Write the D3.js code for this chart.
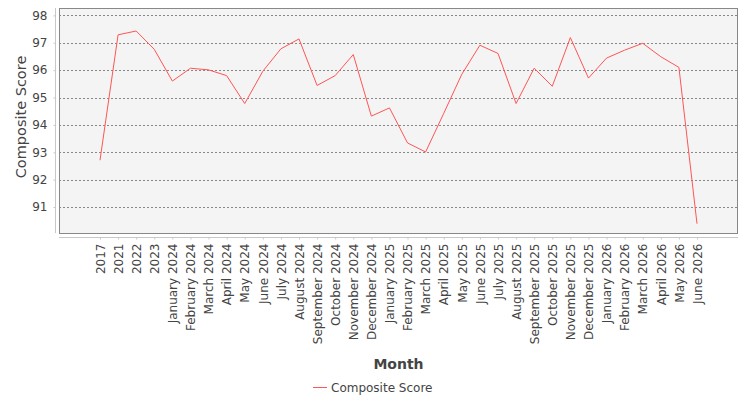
<!DOCTYPE html>
<html>
<head>
<meta charset="utf-8">
<script src="https://cdn.jsdelivr.net/npm/d3@7"></script>
<style>
  body { margin: 0; background: #fff; }
  text { font-family: "DejaVu Sans", sans-serif; fill: #444; }
</style>
</head>
<body>
<div id="chart"></div>
<script>
const months = [
  '2017', '2021', '2022', '2023',
  'January 2024', 'February 2024', 'March 2024', 'April 2024', 'May 2024', 'June 2024',
  'July 2024', 'August 2024', 'September 2024', 'October 2024', 'November 2024', 'December 2024',
  'January 2025', 'February 2025', 'March 2025', 'April 2025', 'May 2025', 'June 2025',
  'July 2025', 'August 2025', 'September 2025', 'October 2025', 'November 2025', 'December 2025',
  'January 2026', 'February 2026', 'March 2026', 'April 2026', 'May 2026', 'June 2026'
];
const compositeScore = [
  92.71, 97.29, 97.43, 96.76,
  95.60, 96.07, 96.01, 95.80, 94.78, 95.96,
  96.78, 97.14, 95.44, 95.80, 96.57, 94.32,
  94.62, 93.34, 93.01, 94.42, 95.85, 96.91,
  96.61, 94.78, 96.07, 95.41, 97.19, 95.71,
  96.44, 96.73, 96.98, 96.49, 96.10, 90.39
];
const yTicks = [91, 92, 93, 94, 95, 96, 97, 98];
const seriesName = 'Composite Score';

const width = 750;
const height = 400;
const plot = { left: 59, right: 738, top: 8, bottom: 233 };

const svg = d3.select('#chart')
  .append('svg')
  .attr('width', width)
  .attr('height', height);

const x = d3.scalePoint()
  .domain(months)
  .range([plot.left + 41, plot.right - 41]);
const y = d3.scaleLinear()
  .domain([90.05, 98.27])
  .range([plot.bottom, plot.top]);

// plot background
svg.append('rect')
  .attr('x', plot.left)
  .attr('y', plot.top)
  .attr('width', plot.right - plot.left)
  .attr('height', plot.bottom - plot.top)
  .attr('fill', '#f4f4f4');

// gridlines
svg.append('g')
  .selectAll('line')
  .data(yTicks)
  .enter()
  .append('line')
  .attr('x1', plot.left)
  .attr('x2', plot.right)
  .attr('y1', d => Math.round(y(d)) + 0.5)
  .attr('y2', d => Math.round(y(d)) + 0.5)
  .attr('stroke', '#888')
  .attr('stroke-width', 1)
  .attr('stroke-dasharray', '2,2');

// plot border
svg.append('rect')
  .attr('x', plot.left + 0.5)
  .attr('y', plot.top + 0.5)
  .attr('width', plot.right - plot.left - 1)
  .attr('height', plot.bottom - plot.top)
  .attr('fill', 'none')
  .attr('stroke', '#888')
  .attr('stroke-width', 1);

// y axis, drawn a few px left of the plot
const yAxis = d3.axisLeft(y)
  .tickValues(yTicks)
  .tickSize(2)
  .tickPadding(6)
  .tickFormat(d3.format('d'));
svg.append('g')
  .attr('transform', 'translate(' + (plot.left - 3.5) + ',0)')
  .call(yAxis)
  .call(g => g.select('.domain')
    .attr('d', 'M0,' + plot.top + 'V' + plot.bottom)
    .attr('stroke', '#c8c8c8'))
  .call(g => g.selectAll('.tick line').attr('stroke', '#c8c8c8'))
  .call(g => g.selectAll('.tick text')
    .attr('font-size', 12)
    .attr('font-family', '"DejaVu Sans", sans-serif')
    .attr('fill', '#444'));

// x axis, drawn a few px below the plot
const xAxis = d3.axisBottom(x)
  .tickSize(2)
  .tickPadding(4);
svg.append('g')
  .attr('transform', 'translate(0,' + (plot.bottom + 4.5) + ')')
  .call(xAxis)
  .call(g => g.select('.domain')
    .attr('d', 'M' + plot.left + ',0H' + plot.right)
    .attr('stroke', '#c8c8c8'))
  .call(g => g.selectAll('.tick line').attr('stroke', '#c8c8c8'))
  .call(g => g.selectAll('.tick text')
    .attr('font-size', 12)
    .attr('font-family', '"DejaVu Sans", sans-serif')
    .attr('fill', '#444')
    .attr('transform', 'rotate(-90)')
    .attr('text-anchor', 'end')
    .attr('x', -6)
    .attr('y', 0)
    .attr('dy', '0.35em'));

// series line
const line = d3.line()
  .x((d, i) => x(months[i]))
  .y(d => y(d));
svg.append('path')
  .datum(compositeScore)
  .attr('fill', 'none')
  .attr('stroke', '#ff5555')
  .attr('stroke-width', 1)
  .attr('stroke-linejoin', 'round')
  .attr('d', line);

// axis titles
svg.append('text')
  .attr('transform', 'translate(25.5,117) rotate(-90)')
  .attr('text-anchor', 'middle')
  .attr('font-size', 14.5)
  .text('Composite Score');
svg.append('text')
  .attr('x', (plot.left + plot.right) / 2)
  .attr('y', 369)
  .attr('text-anchor', 'middle')
  .attr('font-size', 14)
  .attr('font-weight', 'bold')
  .text('Month');

// legend
const legend = svg.append('g')
  .attr('transform', 'translate(313,387.5)');
legend.append('line')
  .attr('x1', 0)
  .attr('x2', 14)
  .attr('y1', 0)
  .attr('y2', 0)
  .attr('stroke', '#ff5555')
  .attr('stroke-width', 1);
legend.append('text')
  .attr('x', 18)
  .attr('y', 4.5)
  .attr('font-size', 12)
  .text(seriesName);
</script>
</body>
</html>
